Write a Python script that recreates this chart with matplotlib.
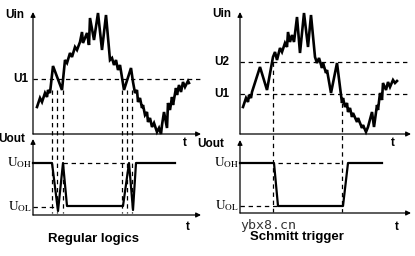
import matplotlib
matplotlib.use("Agg")
import matplotlib.pyplot as plt

plt.rcParams['font.family'] = ['Liberation Sans', 'DejaVu Sans']
plt.rcParams['mathtext.fontset'] = 'stix'

# input waveforms, in picture pixels (x right, y down)
left_in_x = [37, 40, 42, 45, 47, 48, 50, 53, 62, 65, 67, 70, 72, 75, 77, 80, 82, 83, 87, 89,
             90, 94, 98, 102, 106, 110, 112, 114, 116, 118, 120, 124, 131, 133, 135, 137, 138,
             140, 142, 143, 145, 147, 148, 150, 152, 154, 157, 159, 161, 162, 164, 167, 168,
             170, 172, 173, 176, 177, 179, 181, 183, 185, 188, 189]
left_in_y = [107, 98, 102, 93, 97, 90, 93, 66, 90, 60, 63, 53, 57, 47, 50, 42, 32, 43, 33, 45,
             18, 40, 13, 50, 15, 60, 58, 65, 60, 70, 65, 90, 68, 82, 93, 90, 102,
             98, 108, 105, 115, 112, 122, 118, 127, 123, 132, 128, 134, 125, 112, 128, 103,
             110, 97, 105, 88, 95, 85, 92, 82, 87, 81, 83]

right_in_x = [243, 246, 248, 249, 251, 252, 260, 267, 273, 275, 277, 280, 282, 285, 287, 288,
              290, 292, 294, 297, 300, 304, 308, 311, 315, 317, 319, 322, 323, 326, 327, 331,
              337, 342, 343, 345, 347, 348, 350, 352, 353, 357, 358, 362, 363, 366, 368, 372,
              374, 377, 378, 380, 382, 383, 386, 388, 390, 393, 395, 397]
right_in_y = [107, 98, 102, 95, 98, 92, 67, 90, 57, 52, 60, 48, 52, 43, 47, 32,
              42, 35, 42, 17, 53, 13, 47, 15, 57, 63, 58, 68, 63, 73, 70, 93,
              63, 103, 98, 107, 103, 112, 108, 117, 113, 122, 118, 128, 125, 132, 127, 112,
              127, 105, 110, 93, 100, 83, 90, 82, 87, 80, 83, 81]

# output waveforms
left_out_x = [33, 52, 58, 63, 67, 123, 129, 133, 136, 175]
left_out_y = [163, 163, 211, 163, 206, 206, 163, 210, 163, 163]
right_out_x = [240, 274, 278, 343, 348, 382]
right_out_y = [163, 163, 206, 206, 163, 163]

# switching instants (dashed drop lines)
left_switch = [51.7, 57.3, 63.3, 122.3, 126.7, 131.7]
right_switch = [273, 342]

fig = plt.figure(figsize=(4.15, 2.56), dpi=100)
ax = fig.add_axes([0, 0, 1, 1])
ax.set_xlim(0, 415)
ax.set_ylim(256, 0)
ax.axis('off')

dash = (0, (3.5, 3))


def arrow(x0, y0, x1, y1):
    ax.annotate('', xy=(x1, y1), xytext=(x0, y0),
                arrowprops=dict(arrowstyle='-|>', lw=0.9, color='k',
                                mutation_scale=7, shrinkA=0, shrinkB=0))


def lab(x, y, s, **kw):
    ax.text(x, y, s, ha='center', va='center', fontsize=8.5,
            fontweight='bold', color='k', **kw)


# left panel axes
arrow(33, 134, 33, 12)
arrow(33, 134, 201, 134)
arrow(33, 215, 33, 139)
arrow(33, 215, 201, 215)
# right panel axes
arrow(240, 134, 240, 12)
arrow(240, 134, 411, 134)
arrow(240, 213, 240, 140)
arrow(240, 213, 411, 213)

# thresholds
ax.plot([33, 200], [79, 79], 'k', lw=0.9, ls=dash)
ax.plot([240, 408], [62, 62], 'k', lw=0.9, ls=dash)
ax.plot([240, 408], [94, 94], 'k', lw=0.9, ls=dash)

# output level guides
ax.plot([63, 128], [163, 163], 'k', lw=0.9, ls=dash)
ax.plot([33, 58], [207, 207], 'k', lw=0.9, ls=dash)
ax.plot([278, 343], [163, 163], 'k', lw=0.9, ls=dash)
ax.plot([240, 278], [206, 206], 'k', lw=0.9, ls=dash)

for xs in left_switch:
    ax.plot([xs, xs], [90, 213], 'k', lw=0.9, ls=dash)
ax.plot([right_switch[0]] * 2, [62, 212], 'k', lw=0.9, ls=dash)
ax.plot([right_switch[1]] * 2, [103, 212], 'k', lw=0.9, ls=dash)

ax.plot(left_in_x, left_in_y, 'k', lw=1.9, solid_joinstyle='miter')
ax.plot(right_in_x, right_in_y, 'k', lw=1.9, solid_joinstyle='miter')
ax.plot(left_out_x, left_out_y, 'k', lw=1.6)
ax.plot(right_out_x, right_out_y, 'k', lw=1.6)

# labels
lab(15, 15, 'Uin')
lab(21, 79, 'U1')
lab(12, 139, 'Uout')
lab(185, 143, 't')
lab(188, 227, 't')
lab(222, 14, 'Uin')
lab(222, 62, 'U2')
lab(222, 94, 'U1')
lab(211, 144, 'Uout')
lab(393, 143, 't')
lab(397, 227, 't')

for x, y, s in [(20, 163, 'OH'), (20, 207, 'OL'), (227, 163, 'OH'), (227, 206, 'OL')]:
    ax.text(x, y, r'$\mathrm{U_{%s}}$' % s, ha='center', va='center', fontsize=9.5)

ax.text(93, 239, 'Regular logics', ha='center', va='center', fontsize=9.5, fontweight='bold')
ax.text(297, 237, 'Schmitt trigger', ha='center', va='center', fontsize=9.5, fontweight='bold')
ax.text(268, 226, 'ybx8.cn', ha='center', va='center', fontsize=9.5,
        family='DejaVu Sans Mono', color='#333333')

fig.savefig('out.png', dpi=100)
